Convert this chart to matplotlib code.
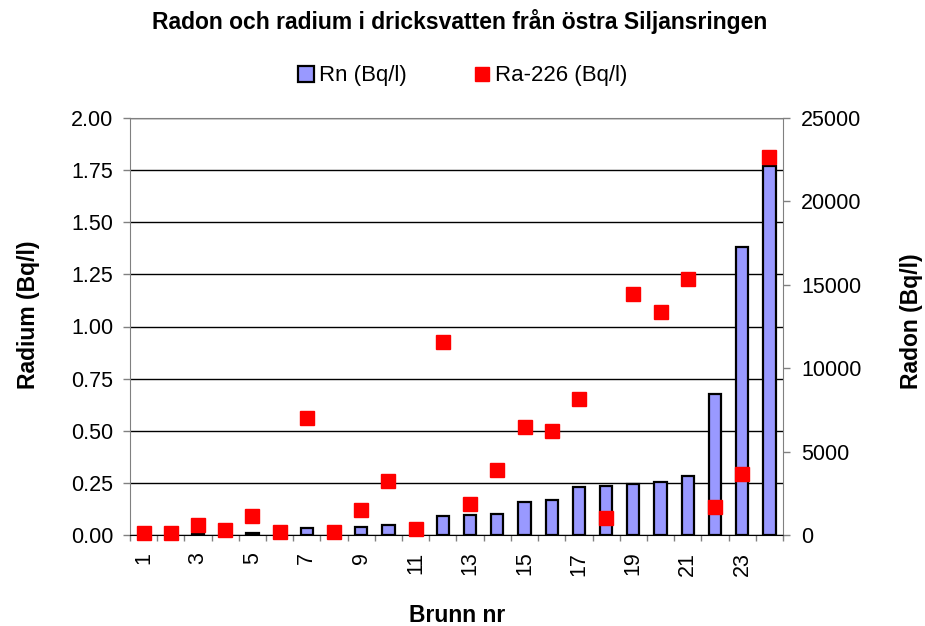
import matplotlib
matplotlib.use("Agg")
import matplotlib.pyplot as plt
import numpy as np
from matplotlib.patches import Patch
from matplotlib.lines import Line2D

plt.rcParams['font.family'] = ['Liberation Sans', 'DejaVu Sans']

wells = list(range(1, 25))
rn = [15, 15, 50, 20, 140, 15, 440, 15, 500, 580, 20, 1120,
      1180, 1280, 2000, 2080, 2860, 2940, 3080, 3180, 3540, 8430, 17270, 22120]
ra = [0.01, 0.01, 0.05, 0.026, 0.09, 0.012, 0.56, 0.013, 0.12, 0.257, 0.03, 0.925,
      0.149, 0.31, 0.517, 0.50, 0.65, 0.083, 1.155, 1.068, 1.23, 0.134, 0.294, 1.814]
left_ticks = [0, 0.25, 0.5, 0.75, 1.0, 1.25, 1.5, 1.75, 2.0]
right_ticks = [0, 5000, 10000, 15000, 20000, 25000]
xlabels = [1, 3, 5, 7, 9, 11, 13, 15, 17, 19, 21, 23]

title = "Radon och radium i dricksvatten från östra Siljansringen"

W, H = 925, 626
fig = plt.figure(figsize=(W/100, H/100), dpi=100)
ax = fig.add_axes([130/W, 1-535/H, (783-130)/W, (535-118)/H])
ax2 = ax.twinx()
ax3 = ax.twinx()

TICK_FS = 15.5
AX_FS = 16.5

# left axis (radium) with gridlines
ax.set_ylim(0, 2.0)
ax.set_yticks(left_ticks)
ax.set_yticklabels([f"{v:.2f}" for v in left_ticks], fontsize=TICK_FS)
ax.yaxis.grid(True, color='black', linewidth=1.0)
ax.set_xlim(0.5, 24.5)
ax.set_xticks(xlabels)
ax.set_xticklabels([str(v) for v in xlabels], rotation=90, fontsize=TICK_FS)
ax.set_xticks(np.arange(0.5, 25, 1), minor=True)
ax.tick_params(axis='x', which='major', length=0, pad=12)
ax.tick_params(axis='x', which='minor', length=4.5, color='#808080', width=1)
ax.tick_params(axis='y', length=5, color='#808080', width=1, pad=7)
for s in ['left', 'top', 'right']:
    ax.spines[s].set_color('#808080')
ax.spines['bottom'].set_color('black')

# right axis (radon) bars
ax2.set_ylim(0, 25000)
ax2.set_yticks(right_ticks)
ax2.set_yticklabels([str(v) for v in right_ticks], fontsize=TICK_FS)
ax2.tick_params(axis='y', length=5, color='#808080', width=1, pad=8)
ax2.bar(wells, rn, width=0.45, color='#9999FF', edgecolor='black', linewidth=1.6, zorder=2)
for s in ['left', 'top', 'right', 'bottom']:
    ax2.spines[s].set_visible(False)

# radium squares
ax3.set_ylim(0, 2.0)
ax3.set_xlim(0.5, 24.5)
ax3.plot(wells, ra, linestyle='none', marker='s', markersize=10, color='#FF0000',
         markeredgecolor='#FF0000', clip_on=False)
ax3.set_axis_off()

# texts
fig.text(459.5/W, 1-29/H, title, ha='center', va='baseline', fontsize=16.5, fontweight='bold')
fig.text(35/W, 1-315/H, "Radium (Bq/l)", rotation=90, rotation_mode='anchor',
         ha='center', va='baseline', fontsize=AX_FS, fontweight='bold')
fig.text(918/W, 1-321/H, "Radon (Bq/l)", rotation=90, rotation_mode='anchor',
         ha='center', va='baseline', fontsize=AX_FS, fontweight='bold')
fig.text(457/W, 1-622/H, "Brunn nr", ha='center', va='baseline', fontsize=AX_FS, fontweight='bold')

handles = [Patch(facecolor='#9999FF', edgecolor='black', linewidth=1.6, label='Rn (Bq/l)'),
           Line2D([], [], linestyle='none', marker='s', markersize=10, color='#FF0000', label='Ra-226 (Bq/l)')]
fig.legend(handles=handles, loc='center', bbox_to_anchor=(462.5/W, 1-76/H), ncol=2,
           frameon=False, fontsize=16, handlelength=0.75, handleheight=0.7,
           handletextpad=0.22, columnspacing=3.0, borderpad=0, borderaxespad=0)

fig.savefig("out.png", dpi=100)
